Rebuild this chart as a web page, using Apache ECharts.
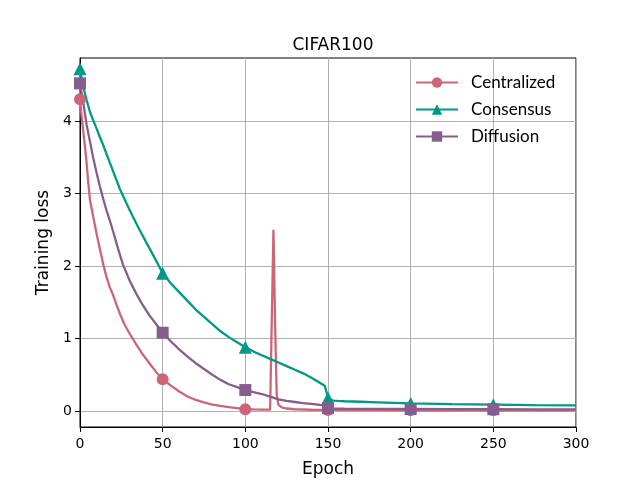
<!DOCTYPE html>
<html lang="en">
<head>
	<meta charset="UTF-8">
	<title>CIFAR100 training loss</title>
	<style>
		html, body { margin: 0; padding: 0; background: #fff; }
		#main { width: 640px; height: 480px; }
	</style>
</head>
<body>
	<div id="main"></div>
</body>
<script type="text/javascript" src="https://cdn.jsdelivr.net/npm/echarts@6/dist/echarts.min.js"></script>
<script type="text/javascript">
        // 读取自图片的数据
        var centralizedEpochs = [0,1,2,3,4,5,6,8,10,12,14,16,18,20,22,24,27,30,34,38,42,46,50,55,60,65,70,75,80,85,90,95,100,105,110,115,116,117,118,119,120,122,125,130,140,150,175,200,225,250,275,300];
        var centralizedLoss = [4.30,4.05,3.85,3.65,3.42,3.15,2.92,2.68,2.45,2.24,2.03,1.85,1.71,1.60,1.47,1.35,1.19,1.07,0.92,0.78,0.66,0.54,0.44,0.35,0.27,0.20,0.155,0.12,0.09,0.07,0.055,0.04,0.025,0.022,0.02,0.02,0.03,2.50,1.20,0.22,0.09,0.05,0.035,0.025,0.018,0.015,0.012,0.011,0.01,0.01,0.01,0.01];

        var consensusEpochs = [0,1,2,3,4,6,8,10,12,14,17,20,24,28,32,36,40,45,50,55,60,65,70,75,80,85,90,95,100,105,110,115,120,125,130,135,140,145,148,149,150,151,153,156,160,170,180,200,225,250,275,300];
        var consensusLoss = [4.72,4.58,4.47,4.38,4.29,4.13,4.01,3.90,3.78,3.67,3.49,3.31,3.07,2.87,2.68,2.50,2.33,2.12,1.90,1.76,1.64,1.52,1.40,1.30,1.20,1.10,1.02,0.95,0.88,0.82,0.77,0.72,0.67,0.62,0.57,0.52,0.46,0.39,0.35,0.27,0.18,0.155,0.145,0.14,0.135,0.128,0.12,0.105,0.095,0.088,0.082,0.078];

        var diffusionEpochs = [0,1,2,3,4,6,8,10,12,14,16,18,20,23,26,30,34,38,42,46,50,55,60,65,70,75,80,85,90,95,100,105,110,115,120,125,130,135,140,145,148,150,152,155,160,175,200,225,250,275,300];
        var diffusionLoss = [4.52,4.38,4.25,4.10,3.95,3.72,3.49,3.29,3.10,2.93,2.77,2.63,2.48,2.24,2.02,1.80,1.62,1.46,1.32,1.20,1.08,0.96,0.85,0.75,0.66,0.58,0.50,0.43,0.37,0.33,0.29,0.26,0.235,0.20,0.16,0.14,0.125,0.11,0.10,0.085,0.08,0.04,0.035,0.033,0.032,0.03,0.028,0.026,0.025,0.024,0.023];

        var yTicks = [0, 1, 2, 3, 4];
        var markEvery = 50;
        var lastMark = 250;

        // 组装数据点，只在每50个epoch显示标记
        function buildData(epochs, values){
        	var data = [];
        	for (var i = 0; i < epochs.length; i++) {
        		var item = { value: [epochs[i], values[i]] };
        		if (epochs[i] % markEvery !== 0 || epochs[i] > lastMark) {
        			item.symbol = 'none';
        		}
        		data.push(item);
        	}
        	return data;
        }

        function makeSeries(name, color, symbol, size, epochs, values){
        	return {
        		name: name,
        		type: 'line',
        		data: buildData(epochs, values),
        		symbol: symbol,
        		symbolSize: size,
        		showSymbol: true,
        		showAllSymbol: true,
        		smooth: false,
        		clip: true,
        		animation: false,
        		lineStyle: { color: color, width: 2.3 },
        		itemStyle: { color: color }
        	};
        }

        var myChart = echarts.init(document.getElementById('main'));
        var option = {
        	backgroundColor: '#ffffff',
        	animation: false,
        	title: {
        		text: 'CIFAR100',
        		left: 328,
        		top: 32,
        		textAlign: 'center',
        		textStyle: { fontFamily: 'DejaVu Sans', fontSize: 17, fontWeight: 'normal', color: '#000' }
        	},
        	legend: {
        		orient: 'vertical',
        		left: 410,
        		top: 69,
        		itemWidth: 42,
        		itemHeight: 13,
        		itemGap: 10,
        		textStyle: { fontFamily: 'Lato', fontSize: 17, color: '#000', padding: [0, 0, 0, 8] },
        		data: ['Centralized', 'Consensus', 'Diffusion']
        	},
        	grid: {
        		left: 80,
        		right: 64,
        		top: 58,
        		bottom: 53,
        		show: true,
        		borderColor: '#000',
        		borderWidth: 1,
        		containLabel: false,
        		outerBoundsMode: 'none'
        	},
        	xAxis: {
        		type: 'value',
        		min: 0,
        		max: 300,
        		interval: 50,
        		name: 'Epoch',
        		nameLocation: 'middle',
        		nameGap: 34,
        		nameTextStyle: { fontFamily: 'DejaVu Sans', fontSize: 17, color: '#000' },
        		axisLine: { show: true, onZero: false, lineStyle: { color: '#000', width: 1 } },
        		axisTick: { show: true, inside: false, length: 5, lineStyle: { color: '#000' } },
        		axisLabel: { fontFamily: 'DejaVu Sans', fontSize: 14, color: '#000', margin: 10 },
        		splitLine: { show: true, lineStyle: { color: '#b0b0b0', width: 1 } }
        	},
        	yAxis: {
        		type: 'value',
        		min: -0.22,
        		max: 4.87,
        		splitNumber: 5,
        		name: 'Training loss',
        		nameLocation: 'middle',
        		nameGap: 28,
        		nameTextStyle: { fontFamily: 'DejaVu Sans', fontSize: 17, color: '#000' },
        		axisLine: { show: true, onZero: false, lineStyle: { color: '#000', width: 1 } },
        		axisTick: { show: true, inside: false, length: 5, customValues: yTicks, lineStyle: { color: '#000' } },
        		axisLabel: { fontFamily: 'DejaVu Sans', fontSize: 14, color: '#000', margin: 8, customValues: yTicks },
        		splitLine: { show: true, lineStyle: { color: '#b0b0b0', width: 1 } }
        	},
        	series: [
        		makeSeries('Centralized', '#cc6677', 'circle', 12, centralizedEpochs, centralizedLoss),
        		makeSeries('Consensus', '#009988', 'triangle', 13, consensusEpochs, consensusLoss),
        		makeSeries('Diffusion', '#865e8d', 'rect', 12, diffusionEpochs, diffusionLoss)
        	]
        };
        myChart.setOption(option);
</script>
</html>
